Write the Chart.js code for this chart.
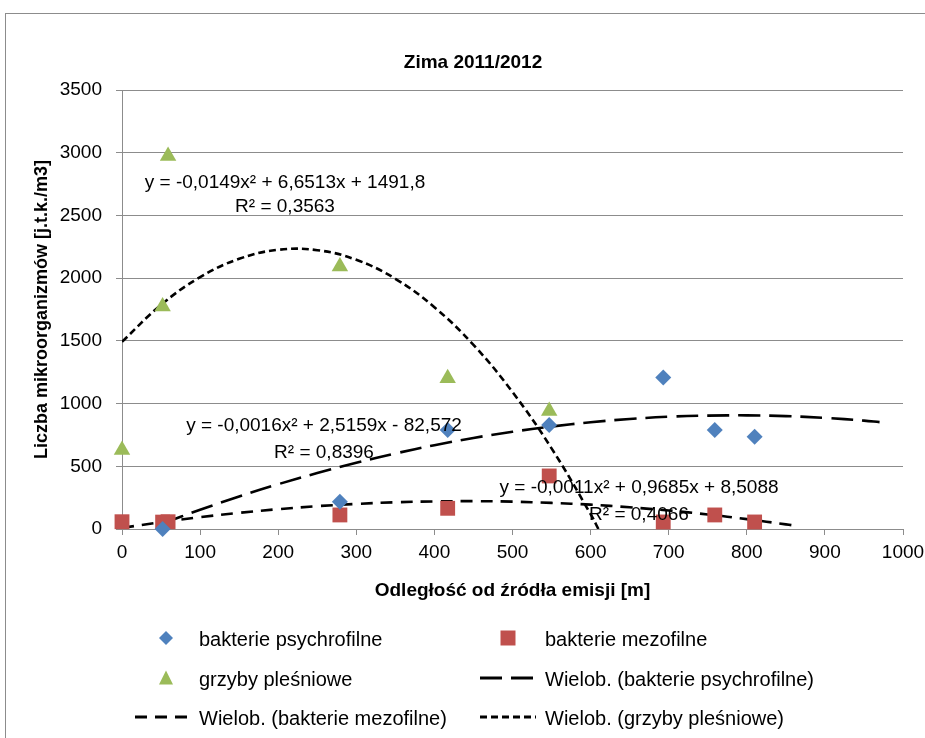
<!DOCTYPE html>
<html>
<head>
<meta charset="utf-8">
<script src="https://cdn.jsdelivr.net/npm/chart.js@4/dist/chart.umd.min.js"></script>
<style>
  html, body { margin: 0; padding: 0; background: #fff; overflow: hidden; width: 925px; height: 738px; }
  #frame { position: absolute; left: 5px; top: 13px; width: 960px; height: 760px; border-left: 1px solid #8c8c8c; border-top: 1px solid #8c8c8c; box-sizing: border-box; }
  #wrap { position: absolute; left: 5px; top: 13px; width: 936px; height: 725px; }
</style>
</head>
<body>
<div id="frame"></div>
<div id="wrap"><canvas id="c"></canvas></div>
<script>
// ---- data ----
const chartTitle = 'Zima 2011/2012';
const xAxisTitle = 'Odległość od źródła emisji [m]';
const yAxisTitle = 'Liczba mikroorganizmów [j.t.k./m3]';

const seriesNames = ['bakterie psychrofilne', 'bakterie mezofilne', 'grzyby pleśniowe'];
const trendNames = ['Wielob. (bakterie psychrofilne)', 'Wielob. (bakterie mezofilne)', 'Wielob. (grzyby pleśniowe)'];

const psychroX = [52, 279, 417, 547, 693, 759, 810];
const psychroY = [0, 218, 789, 829, 1207, 789, 736];

const mezoX = [0, 52, 59, 279, 417, 547, 693, 759, 810];
const mezoY = [58, 55, 58, 112, 165, 423, 56, 112, 56];

const grzybyX = [0, 52, 59, 279, 417, 547];
const grzybyY = [630, 1773, 2974, 2092, 1202, 941];

// trendline curves
const trendPsychroX = [52, 100, 150, 200, 250, 300, 350, 400, 450, 500, 550, 600, 650, 700, 750, 800, 850, 900, 950, 970];
const trendPsychroY = [44, 153, 259, 357, 446, 528, 602, 668, 726, 775, 817, 851, 877, 895, 904, 906, 900, 886, 864, 852];

const trendMezoX = [0, 50, 100, 150, 200, 250, 300, 350, 400, 450, 500, 550, 600, 650, 700, 750, 800, 850, 858];
const trendMezoY = [9, 54, 94, 129, 158, 182, 200, 213, 220, 222, 218, 208, 194, 173, 147, 116, 79, 37, 30];

const trendGrzybyX = [0, 50, 100, 150, 200, 250, 300, 350, 400, 450, 500, 550, 600, 610];
const trendGrzybyY = [1492, 1787, 2008, 2154, 2226, 2223, 2146, 1995, 1768, 1468, 1092, 643, 119, 0];

const trendLabels = [
  ['y = -0,0016x² + 2,5159x - 82,572', 'R² = 0,8396'],
  ['y = -0,0011x² + 0,9685x + 8,5088', 'R² = 0,4066'],
  ['y = -0,0149x² + 6,6513x + 1491,8', 'R² = 0,3563']
];

const xTicks = [0, 100, 200, 300, 400, 500, 600, 700, 800, 900, 1000];
const yTicks = [0, 500, 1000, 1500, 2000, 2500, 3000, 3500];

// ---- build ----
const pts = (xs, ys) => xs.map((x, i) => ({ x: x, y: ys[i] }));
const FONT = "'Liberation Sans', Arial, sans-serif";
const GRID = '#8c8c8c';
const BLUE = '#4F81BD', RED = '#C0504D', GREEN = '#9BBB59';

const scatterCommon = { showLine: false, clip: false, order: 0, borderWidth: 0 };
const trendCommon = { showLine: true, pointRadius: 0, borderColor: '#000', borderWidth: 2.6, tension: 0.4, fill: false, order: 1 };

const datasets = [
  Object.assign({ label: seriesNames[0], data: pts(psychroX, psychroY), pointStyle: 'rectRot', pointRadius: 8, backgroundColor: BLUE, borderColor: BLUE }, scatterCommon),
  Object.assign({ label: seriesNames[1], data: pts(mezoX, mezoY), pointStyle: 'rect', pointRadius: 10.5, backgroundColor: RED, borderColor: RED }, scatterCommon),
  Object.assign({ label: seriesNames[2], data: pts(grzybyX, grzybyY), pointStyle: 'triangle', pointRadius: 9.5, backgroundColor: GREEN, borderColor: GREEN }, scatterCommon),
  Object.assign({ label: trendNames[0], data: pts(trendPsychroX, trendPsychroY), borderDash: [22, 9] }, trendCommon),
  Object.assign({ label: trendNames[1], data: pts(trendMezoX, trendMezoY), borderDash: [12, 8] }, trendCommon),
  Object.assign({ label: trendNames[2], data: pts(trendGrzybyX, trendGrzybyY), borderDash: [7, 4] }, trendCommon)
];

function marker(ctx, style, x, y, color) {
  ctx.save();
  ctx.fillStyle = color;
  ctx.beginPath();
  if (style === 'rectRot') {
    const r = 7;
    ctx.moveTo(x, y - r); ctx.lineTo(x + r, y); ctx.lineTo(x, y + r); ctx.lineTo(x - r, y);
  } else if (style === 'rect') {
    const s = 7.5;
    ctx.rect(x - s, y - s, 2 * s, 2 * s);
  } else {
    const w = 7, h = 13;
    ctx.moveTo(x, y - h / 2 - 1); ctx.lineTo(x + w, y + h / 2); ctx.lineTo(x - w, y + h / 2);
  }
  ctx.closePath();
  ctx.fill();
  ctx.restore();
}

const decor = {
  id: 'decor',
  afterDraw(chart) {
    const ctx = chart.ctx;
    const ca = chart.chartArea;
    ctx.save();
    ctx.fillStyle = '#000';
    ctx.textAlign = 'center';
    ctx.textBaseline = 'middle';
    // title
    ctx.font = 'bold 19px ' + FONT;
    ctx.fillText(chartTitle, 468, 50);
    // x title
    ctx.font = 'bold 19px ' + FONT;
    ctx.fillText(xAxisTitle, (ca.left + ca.right) / 2, 578);
    // y title
    ctx.save();
    ctx.translate(37, (ca.top + ca.bottom) / 2);
    ctx.rotate(-Math.PI / 2);
    ctx.font = 'bold 18px ' + FONT;
    ctx.fillText(yAxisTitle, 0, 0);
    ctx.restore();

    // trendline equations
    ctx.font = '19px ' + FONT;
    const eqPos = [[319, 413, 440], [634, 475, 502], [280, 170, 194]];
    trendLabels.forEach((lab, i) => {
      ctx.fillText(lab[0], eqPos[i][0], eqPos[i][1]);
      ctx.fillText(lab[1], eqPos[i][0], eqPos[i][2]);
    });

    // legend
    const ds = chart.data.datasets;
    const items = [
      { d: ds[0], mx: 161, tx: 194, y: 625 },
      { d: ds[1], mx: 503, tx: 540, y: 625 },
      { d: ds[2], mx: 161, tx: 194, y: 665 },
      { d: ds[3], lx: [475, 531], tx: 540, y: 665 },
      { d: ds[4], lx: [130, 188], tx: 194, y: 704 },
      { d: ds[5], lx: [475, 531], tx: 540, y: 704 }
    ];
    ctx.font = '20px ' + FONT;
    ctx.textAlign = 'left';
    items.forEach(it => {
      if (it.lx) {
        ctx.save();
        ctx.strokeStyle = '#000';
        ctx.lineWidth = 3;
        ctx.setLineDash(it.d.borderDash);
        ctx.beginPath();
        ctx.moveTo(it.lx[0], it.y);
        ctx.lineTo(it.lx[1], it.y);
        ctx.stroke();
        ctx.restore();
      } else {
        marker(ctx, it.d.pointStyle, it.mx, it.y, it.d.backgroundColor);
      }
      ctx.fillStyle = '#000';
      ctx.fillText(it.d.label, it.tx, it.y + 2);
    });
    ctx.restore();
  }
};

new Chart(document.getElementById('c'), {
  type: 'scatter',
  data: { datasets: datasets },
  options: {
    responsive: true,
    maintainAspectRatio: false,
    animation: false,
    layout: { padding: { left: 0, right: 38, top: 77, bottom: 169 } },
    plugins: { legend: { display: false }, title: { display: false }, tooltip: { enabled: false } },
    scales: {
      x: {
        type: 'linear', min: 0, max: 1000,
        afterBuildTicks: (s) => { s.ticks = xTicks.map(v => ({ value: v })); },
        afterFit: (s) => { s.height = 40; },
        grid: { drawOnChartArea: false, drawTicks: true, tickLength: 6, color: GRID, lineWidth: 1 },
        border: { display: true, color: GRID, width: 1 },
        ticks: { color: '#000', font: { family: FONT, size: 19 }, padding: 6, maxRotation: 0, autoSkip: false, callback: (v) => String(v) }
      },
      y: {
        type: 'linear', min: 0, max: 3500,
        afterBuildTicks: (s) => { s.ticks = yTicks.map(v => ({ value: v })); },
        afterFit: (s) => { s.width = 117; },
        grid: { drawOnChartArea: true, drawTicks: true, tickLength: 6, color: GRID, lineWidth: 1 },
        border: { display: true, color: GRID, width: 1 },
        ticks: { color: '#000', font: { family: FONT, size: 19 }, padding: 14, autoSkip: false, callback: (v) => String(v) }
      }
    }
  },
  plugins: [decor]
});
</script>
</body>
</html>
